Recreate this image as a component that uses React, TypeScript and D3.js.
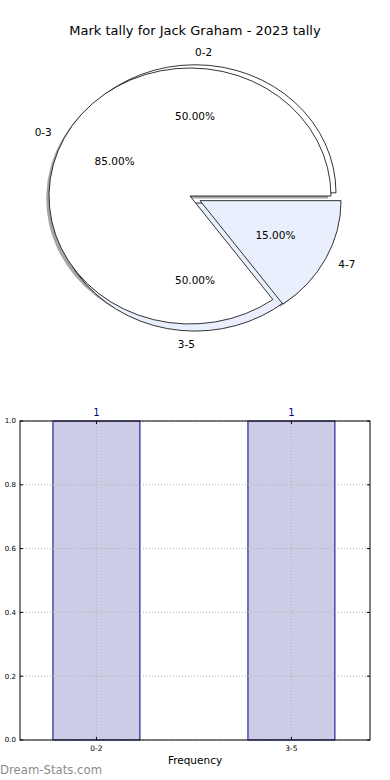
import React, { useEffect, useRef } from 'react';
import * as d3 from 'd3';

// Pie data: two pies drawn over each other, as in the source
const outerLabels = ['0-3', '4-7'];
const outerValues = [85, 15];
const outerExplode = [0, 0.08];
const innerLabels = ['0-2', '3-5'];
const innerValues = [50, 50];
const innerExplode = [0.025, 0.055];

// Bar data
const barCategories = ['0-2', '3-5'];
const barValues = [1, 1];
const yTicks = [0, 0.2, 0.4, 0.6, 0.8, 1.0];

const pieColors = ['#ffffff', '#e9effd'];

const App: React.FC = () => {
  const svgRef = useRef<SVGSVGElement>(null);

  useEffect(() => {
    if (!svgRef.current) return;
    const svg = d3.select(svgRef.current);
    svg.selectAll('*').remove();

    const width = 390;
    const font = 'DejaVu Sans, sans-serif';

    // Title
    svg.append('text')
      .attr('x', width / 2)
      .attr('y', 30)
      .attr('dy', '0.35em')
      .attr('text-anchor', 'middle')
      .style('font-family', font)
      .style('font-size', '13px')
      .text('Mark tally for Jack Graham - 2023 tally');

    // ---- Pie ----
    const rx = 141;
    const ry = 128;
    const arcGen = d3.arc<d3.PieArcDatum<number>>().innerRadius(0).outerRadius(rx);
    const pieGen = d3.pie<number>()
      .sort(null)
      .startAngle(Math.PI / 2)
      .endAngle(Math.PI / 2 - 2 * Math.PI);

    const layout = (values: number[], explode: number[], cx: number, cy: number) => {
      const total = d3.sum(values);
      const cum = d3.cumsum(values);
      return pieGen(values).map((d, i) => {
        const mid = (d.startAngle + d.endAngle) / 2;
        // matplotlib-style angle (ccw from 3 o'clock), picks the label side
        const theta = 2 * Math.PI * ((cum[i] - values[i] / 2) / total);
        const ox = cx + rx * explode[i] * Math.sin(mid);
        const oy = cy - ry * explode[i] * Math.cos(mid);
        return { d, mid, theta, ox, oy, i };
      });
    };

    const outer = layout(outerValues, outerExplode, 190, 196);
    const inner = layout(innerValues, innerExplode, 195, 196);

    const pieG = svg.append('g');

    const wedge = (s: ReturnType<typeof layout>[number], fill: string, dx = 0, dy = 0) =>
      pieG.append('path')
        .attr('transform', `translate(${s.ox + dx},${s.oy + dy}) scale(1,${ry / rx})`)
        .attr('d', arcGen(s.d) as string)
        .attr('fill', fill);

    // shadows of the outer pie
    outer.forEach(s => {
      wedge(s, '#4d4d4d', -2.8, 2.6).attr('opacity', 0.5);
    });
    // inner pie underneath
    inner.forEach(s => {
      wedge(s, pieColors[s.i])
        .attr('stroke', '#000')
        .attr('stroke-width', 0.8)
        .attr('vector-effect', 'non-scaling-stroke');
    });
    // outer pie on top
    outer.forEach(s => {
      wedge(s, pieColors[s.i])
        .attr('stroke', '#000')
        .attr('stroke-width', 0.8)
        .attr('vector-effect', 'non-scaling-stroke');
    });

    const addLabels = (slices: ReturnType<typeof layout>, labels: string[], values: number[]) => {
      const total = d3.sum(values);
      slices.forEach(s => {
        const sx = Math.sin(s.mid);
        const cy = -Math.cos(s.mid);
        pieG.append('text')
          .attr('x', s.ox + rx * 1.1 * sx)
          .attr('y', s.oy + ry * 1.1 * cy)
          .attr('dy', '0.35em')
          .attr('text-anchor', Math.cos(s.theta) > 0 ? 'start' : 'end')
          .style('font-family', font)
          .style('font-size', '10.5px')
          .text(labels[s.i]);
        pieG.append('text')
          .attr('x', s.ox + rx * 0.6 * sx)
          .attr('y', s.oy + ry * 0.6 * cy)
          .attr('dy', '0.35em')
          .attr('text-anchor', 'middle')
          .style('font-family', font)
          .style('font-size', '10.5px')
          .text(`${((values[s.i] / total) * 100).toFixed(2)}%`);
      });
    };
    addLabels(outer, outerLabels, outerValues);
    addLabels(inner, innerLabels, innerValues);

    // ---- Bar chart ----
    const left = 20, right = 370, top = 421, bottom = 740;
    const barWidth = 0.446;
    const x = d3.scaleLinear().domain([-0.392, 1.403]).range([left, right]);
    const y = d3.scaleLinear().domain([0, 1]).range([bottom, top]);

    const barG = svg.append('g');

    barValues.forEach((v, i) => {
      barG.append('rect')
        .attr('x', x(i - barWidth / 2))
        .attr('y', y(v))
        .attr('width', x(i + barWidth / 2) - x(i - barWidth / 2))
        .attr('height', y(0) - y(v))
        .attr('fill', '#cccce6')
        .attr('stroke', '#000080')
        .attr('stroke-width', 1);

      barG.append('text')
        .attr('x', x(i))
        .attr('y', y(v) - 9)
        .attr('dy', '0.35em')
        .attr('text-anchor', 'middle')
        .style('font-family', font)
        .style('font-size', '10px')
        .style('fill', '#000080')
        .text(v);
    });

    // grid
    yTicks.forEach(t => {
      barG.append('line')
        .attr('x1', left).attr('x2', right)
        .attr('y1', y(t)).attr('y2', y(t))
        .attr('stroke', '#b0b0b0')
        .attr('stroke-width', 1)
        .attr('stroke-dasharray', '1,2');
    });
    barCategories.forEach((_, i) => {
      barG.append('line')
        .attr('x1', x(i)).attr('x2', x(i))
        .attr('y1', top).attr('y2', bottom)
        .attr('stroke', '#b0b0b0')
        .attr('stroke-width', 1)
        .attr('stroke-dasharray', '1,2');
    });

    // frame
    barG.append('rect')
      .attr('x', left)
      .attr('y', top)
      .attr('width', right - left)
      .attr('height', bottom - top)
      .attr('fill', 'none')
      .attr('stroke', '#000')
      .attr('stroke-width', 1);

    // ticks (inward) and labels
    yTicks.forEach(t => {
      barG.append('line')
        .attr('x1', left).attr('x2', left + 3)
        .attr('y1', y(t)).attr('y2', y(t))
        .attr('stroke', '#000');
      barG.append('line')
        .attr('x1', right - 3).attr('x2', right)
        .attr('y1', y(t)).attr('y2', y(t))
        .attr('stroke', '#000');
      barG.append('text')
        .attr('x', left - 4)
        .attr('y', y(t))
        .attr('dy', '0.35em')
        .attr('text-anchor', 'end')
        .style('font-family', font)
        .style('font-size', '7px')
        .text(t.toFixed(1));
    });

    barCategories.forEach((c, i) => {
      barG.append('line')
        .attr('x1', x(i)).attr('x2', x(i))
        .attr('y1', bottom).attr('y2', bottom - 3)
        .attr('stroke', '#000');
      barG.append('line')
        .attr('x1', x(i)).attr('x2', x(i))
        .attr('y1', top).attr('y2', top + 3)
        .attr('stroke', '#000');
      barG.append('text')
        .attr('x', x(i))
        .attr('y', bottom + 8)
        .attr('dy', '0.35em')
        .attr('text-anchor', 'middle')
        .style('font-family', font)
        .style('font-size', '7.5px')
        .text(c);
    });

    barG.append('text')
      .attr('x', (left + right) / 2)
      .attr('y', 760)
      .attr('dy', '0.35em')
      .attr('text-anchor', 'middle')
      .style('font-family', font)
      .style('font-size', '10.5px')
      .text('Frequency');

    // watermark
    svg.append('text')
      .attr('x', 0)
      .attr('y', 770)
      .attr('dy', '0.35em')
      .style('font-family', font)
      .style('font-size', '11.7px')
      .style('fill', '#8c8c8c')
      .text('Dream-Stats.com');
  }, []);

  return (
    <svg
      ref={svgRef}
      width={390}
      height={780}
      style={{ position: 'absolute', left: 0, top: 0, background: '#fff' }}
    />
  );
};

export default App;
